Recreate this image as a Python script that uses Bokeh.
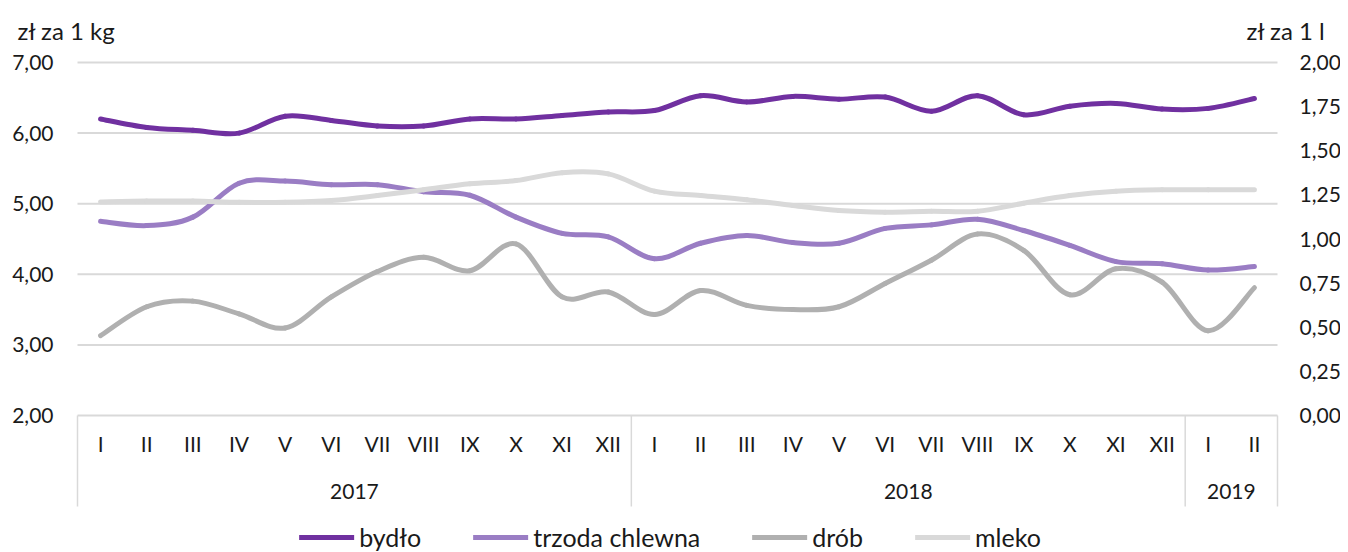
import numpy as np
from bokeh.plotting import figure
from bokeh.models import Range1d, Legend, LegendItem, ColumnDataSource
from bokeh.embed import file_html
from bokeh.resources import INLINE
from bokeh.core.properties import value

# ---------------- data ----------------
months = ["I", "II", "III", "IV", "V", "VI", "VII", "VIII", "IX", "X", "XI", "XII",
          "I", "II", "III", "IV", "V", "VI", "VII", "VIII", "IX", "X", "XI", "XII",
          "I", "II"]
years = ["2017", "2018", "2019"]
year_counts = [12, 12, 2]

bydlo = [6.20, 6.08, 6.04, 6.00, 6.24, 6.18, 6.10, 6.10, 6.20, 6.20, 6.25, 6.30,
         6.32, 6.53, 6.44, 6.52, 6.48, 6.51, 6.31, 6.53, 6.26, 6.38, 6.42, 6.34,
         6.35, 6.49]
trzoda = [4.75, 4.69, 4.81, 5.29, 5.32, 5.27, 5.27, 5.17, 5.12, 4.81, 4.58, 4.53,
          4.22, 4.44, 4.55, 4.45, 4.44, 4.65, 4.70, 4.78, 4.62, 4.41, 4.18, 4.15,
          4.06, 4.11]
drob = [3.13, 3.54, 3.62, 3.44, 3.24, 3.68, 4.04, 4.24, 4.05, 4.43, 3.68, 3.75,
        3.43, 3.77, 3.56, 3.50, 3.54, 3.87, 4.20, 4.57, 4.34, 3.71, 4.08, 3.89,
        3.20, 3.81]
mleko = [1.21, 1.215, 1.215, 1.208, 1.208, 1.218, 1.246, 1.279, 1.313, 1.331, 1.376, 1.369,
         1.271, 1.246, 1.222, 1.190, 1.161, 1.152, 1.157, 1.157, 1.203, 1.246, 1.271, 1.279,
         1.279, 1.279]

series_names = ["bydło", "trzoda chlewna", "drób", "mleko"]
series_colors = ["#7030A0", "#9A7DC4", "#B0B0B0", "#D9D9D9"]

left_ticks = [2.0, 3.0, 4.0, 5.0, 6.0, 7.0]
left_labels = ["2,00", "3,00", "4,00", "5,00", "6,00", "7,00"]
right_ticks = [0.0, 0.25, 0.5, 0.75, 1.0, 1.25, 1.5, 1.75, 2.0]
right_labels = ["0,00", "0,25", "0,50", "0,75", "1,00", "1,25", "1,50", "1,75", "2,00"]

left_unit = "zł za 1 kg"
right_unit = "zł za 1 l"

FONT = "Lato"
TXT = "#1a1a1a"
GRID = "#D9D9D9"

# ---------------- geometry (pixels) ----------------
W, H = 1340, 552
FL, FR = 77, 1277            # category area left / right
Y_TOP, Y_BOT = 62, 415       # pixel rows of the top and bottom tick values

n = len(months)
pxu = (FR - FL) / n                                       # px per category
pyu = (Y_BOT - Y_TOP) / (left_ticks[-1] - left_ticks[0])  # px per left unit
x0r = -0.5 - FL / pxu
x1r = x0r + W / pxu
y1r = left_ticks[-1] + Y_TOP / pyu
y0r = y1r - H / pyu
ratio = (right_ticks[-1] - right_ticks[0]) / (left_ticks[-1] - left_ticks[0])
r0 = right_ticks[0] + (y0r - left_ticks[0]) * ratio
r1 = right_ticks[0] + (y1r - left_ticks[0]) * ratio


def bezier_source(vals):
    """Excel-like smoothing: cubic Bezier segments between the data points."""
    y = np.asarray(vals, dtype=float)
    k = len(y)
    x = np.arange(k, dtype=float)
    xp = np.concatenate([[x[0]], x, [x[-1]]])
    yp = np.concatenate([[y[0]], y, [y[-1]]])
    cx0 = xp[1:k] + (xp[2:k + 1] - xp[0:k - 1]) / 6.0
    cy0 = yp[1:k] + (yp[2:k + 1] - yp[0:k - 1]) / 6.0
    cx1 = xp[2:k + 1] - (xp[3:k + 2] - xp[1:k]) / 6.0
    cy1 = yp[2:k + 1] - (yp[3:k + 2] - yp[1:k]) / 6.0
    return ColumnDataSource(dict(x0=x[:-1], y0=y[:-1], x1=x[1:], y1=y[1:],
                                 cx0=cx0, cy0=cy0, cx1=cx1, cy1=cy1))


p = figure(width=W, height=H, output_backend="svg", toolbar_location=None,
           x_range=Range1d(x0r, x1r), y_range=Range1d(y0r, y1r),
           x_axis_location=None, y_axis_location=None,
           min_border=0, min_border_left=0, min_border_right=0,
           min_border_top=0, min_border_bottom=0)
p.outline_line_color = None
p.background_fill_color = "white"
p.border_fill_color = "white"
p.xgrid.visible = False
p.ygrid.visible = False
p.extra_y_ranges = {"right": Range1d(r0, r1)}

lo, hi = -0.5, n - 0.5

# horizontal gridlines
p.segment(x0=[lo] * len(left_ticks), y0=left_ticks, x1=[hi] * len(left_ticks), y1=left_ticks,
          line_color=GRID, line_width=2)

# tick labels (left and right value axes)
p.text(x=[lo - 24 / pxu] * len(left_ticks), y=left_ticks, text=left_labels,
       text_align="right", text_baseline="middle", text_font=value(FONT),
       text_font_size="21px", text_color=TXT)
p.text(x=[hi + 22 / pxu] * len(right_ticks), y=right_ticks, text=right_labels,
       text_align="left", text_baseline="middle", text_font=value(FONT),
       text_font_size="21px", text_color=TXT, y_range_name="right")

# unit labels
p.text(x=[lo - 60 / pxu], y=[left_ticks[-1] + 32 / pyu], text=[left_unit],
       text_align="left", text_baseline="middle", text_font=value(FONT),
       text_font_size="24px", text_color=TXT)
p.text(x=[hi + 48 / pxu], y=[left_ticks[-1] + 32 / pyu], text=[right_unit],
       text_align="right", text_baseline="middle", text_font=value(FONT),
       text_font_size="24px", text_color=TXT)

# category axis: separators, month labels, year labels
base = left_ticks[0]
bounds = np.concatenate([[0], np.cumsum(year_counts)]) - 0.5
p.segment(x0=bounds, y0=[base] * len(bounds), x1=bounds, y1=[base - 91 / pyu] * len(bounds),
          line_color=GRID, line_width=1.5)
p.text(x=list(range(n)), y=[base - 28 / pyu] * n, text=months, text_align="center",
       text_baseline="middle", text_font=value(FONT), text_font_size="21px", text_color=TXT)
starts = bounds[:-1] + 0.5
ycent = [s + (c - 1) / 2 for s, c in zip(starts, year_counts)]
p.text(x=ycent, y=[base - 76 / pyu] * len(years), text=years, text_align="center",
       text_baseline="middle", text_font=value(FONT), text_font_size="21px", text_color=TXT)

# lines
renderers = []
for vals, col, rng in ((bydlo, series_colors[0], "default"), (trzoda, series_colors[1], "default"),
                       (drob, series_colors[2], "default"), (mleko, series_colors[3], "right")):
    r = p.bezier(x0="x0", y0="y0", x1="x1", y1="y1", cx0="cx0", cy0="cy0", cx1="cx1", cy1="cy1",
                 source=bezier_source(vals), line_color=col, line_width=5, line_cap="round",
                 y_range_name=rng)
    renderers.append(r)

legend = Legend(items=[LegendItem(label=nm, renderers=[r]) for nm, r in zip(series_names, renderers)],
                orientation="horizontal", location="bottom_center", glyph_width=55, glyph_height=18,
                label_standoff=5, spacing=52, padding=0, margin=0, label_height=18,
                label_text_font=FONT, label_text_font_size="25px", label_text_color=TXT,
                label_text_baseline="middle",
                border_line_alpha=0, background_fill_alpha=0)
p.add_layout(legend, "center")

open("out.html", "w").write(file_html(p, INLINE))
